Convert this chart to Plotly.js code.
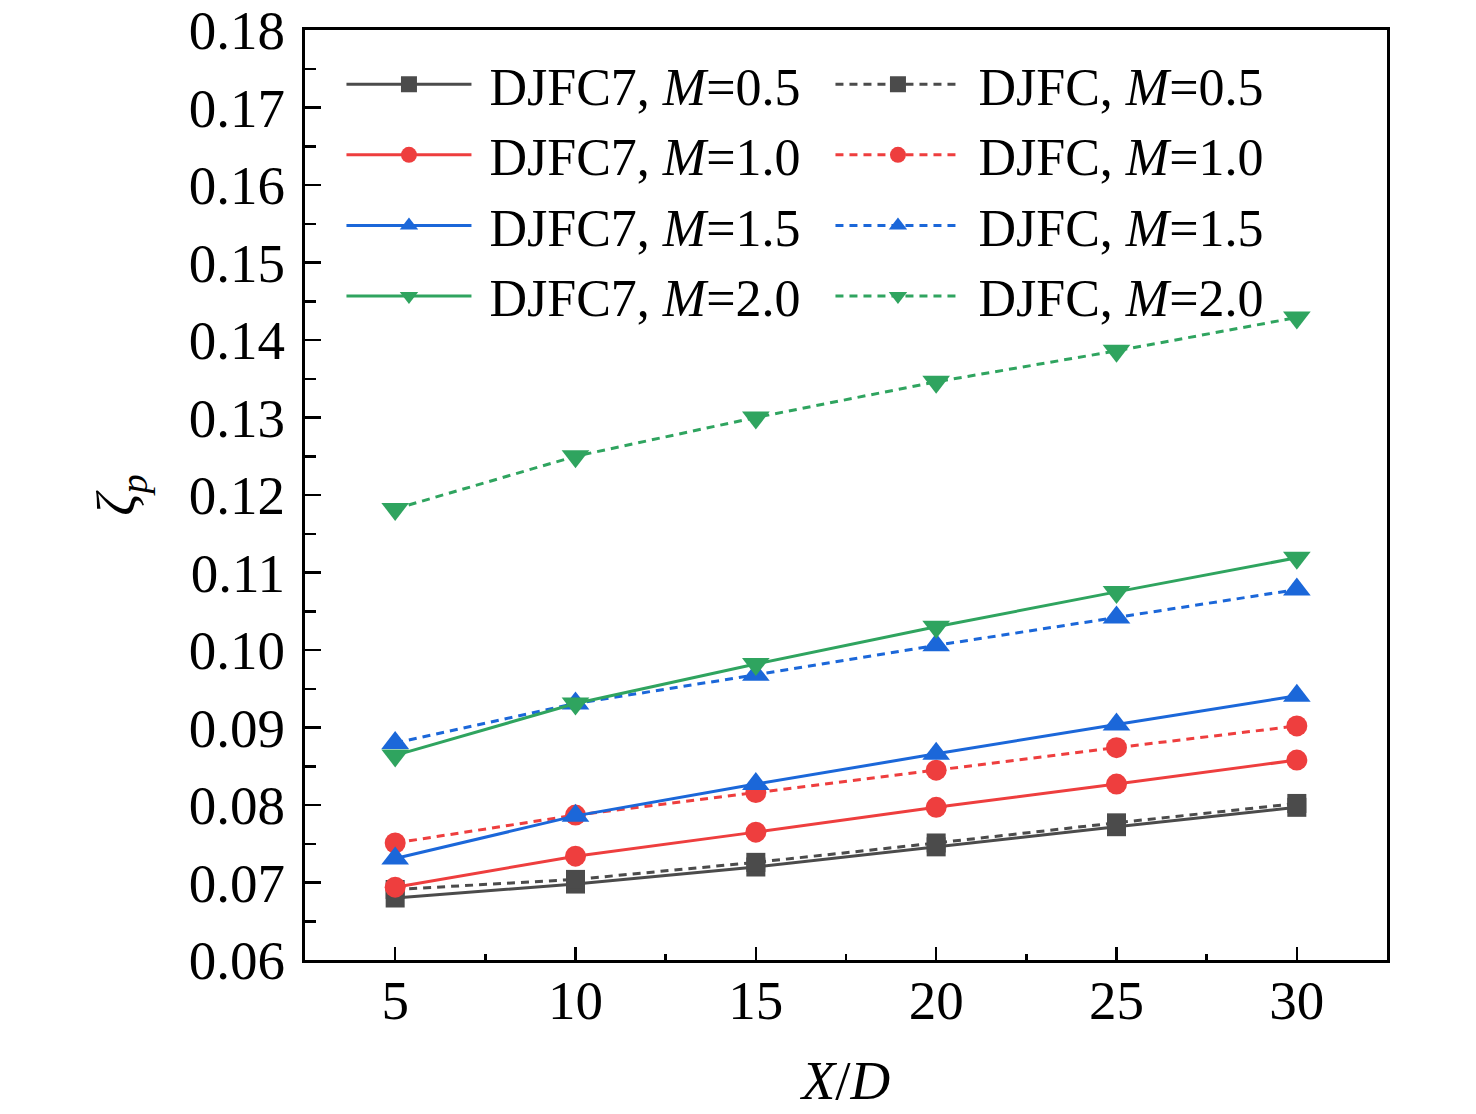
<!DOCTYPE html>
<html>
<head>
<meta charset="utf-8">
<script src="https://cdn.plot.ly/plotly-3.0.1.min.js"></script>
<style>
  body { margin: 0; background: #fff; }
  #graph { width: 1476px; height: 1114px; }
</style>
</head>
<body>
<div id="graph"></div>
<script>
// X/D positions
var xd = [5, 10, 15, 20, 25, 30]

// zeta_p
var djfc7_05 = [0.0680, 0.0698, 0.0720, 0.0746, 0.0772, 0.0797]
var djfc_05  = [0.0691, 0.0704, 0.0726, 0.0751, 0.0777, 0.0802]
var djfc7_10 = [0.0694, 0.0734, 0.0765, 0.0797, 0.0827, 0.0858]
var djfc_10  = [0.0751, 0.0787, 0.0816, 0.0845, 0.0874, 0.0902]
var djfc7_15 = [0.0731, 0.0786, 0.0827, 0.0866, 0.0904, 0.0941]
var djfc_15  = [0.0880, 0.0931, 0.0968, 0.1006, 0.1042, 0.1078]
var djfc7_20 = [0.0864, 0.0931, 0.0982, 0.1030, 0.1075, 0.1119]
var djfc_20  = [0.1182, 0.1250, 0.1300, 0.1346, 0.1386, 0.1429]

var gray = '#4b4b4b', red = '#ee3e3e', blue = '#1b67d9', green = '#2fa45f'
var font = 'Liberation Serif, Times New Roman, serif'
var sp = '\u00a0'  // pushes legend text away from the sample line

function series(y, name, color, dashed, symbol, size) {
    return {
        x: xd,
        y: y,
        name: sp + name,
        type: 'scatter',
        mode: 'lines+markers',
        line: {color: color, width: 3, dash: dashed ? '8px,6px' : 'solid'},
        marker: {color: color, symbol: symbol, size: size}
    }
}

var data = [
    series(djfc7_05, 'DJFC7, <i>M</i>=0.5', gray, false, 'square', 19),
    series(djfc_05, 'DJFC, <i>M</i>=0.5', gray, true, 'square', 19),
    series(djfc7_10, 'DJFC7, <i>M</i>=1.0', red, false, 'circle', 21),
    series(djfc_10, 'DJFC, <i>M</i>=1.0', red, true, 'circle', 21),
    series(djfc7_15, 'DJFC7, <i>M</i>=1.5', blue, false, 'triangle-up', 24),
    series(djfc_15, 'DJFC, <i>M</i>=1.5', blue, true, 'triangle-up', 24),
    series(djfc7_20, 'DJFC7, <i>M</i>=2.0', green, false, 'triangle-down', 24),
    series(djfc_20, 'DJFC, <i>M</i>=2.0', green, true, 'triangle-down', 24)
]

var layout = {
    width: 1476,
    height: 1114,
    margin: {l: 305, r: 89, t: 30, b: 154},
    paper_bgcolor: '#fff',
    plot_bgcolor: '#fff',
    font: {family: font, size: 55, color: '#000'},
    showlegend: true,
    legend: {
        orientation: 'h',
        x: 0.0337, y: 0.985,
        xanchor: 'left', yanchor: 'top',
        entrywidth: 349,
        itemwidth: 125,
        bgcolor: 'rgba(0,0,0,0)',
        font: {family: font, size: 52, color: '#000'}
    },
    xaxis: {
        range: [2.5, 32.5],
        tickvals: xd,
        ticks: 'inside', ticklen: 13, tickwidth: 2.5, tickcolor: '#000',
        ticklabelstandoff: -10,
        minor: {ticks: 'inside', ticklen: 6, tickwidth: 2.5, tickcolor: '#000', dtick: 2.5, tick0: 2.5},
        showline: true, linewidth: 3, linecolor: '#000', mirror: true,
        showgrid: false, zeroline: false,
        title: {text: '<i>X</i>/<i>D</i>', standoff: 31, font: {family: font, size: 55}}
    },
    yaxis: {
        range: [0.06, 0.18],
        dtick: 0.01,
        tickformat: '.2f',
        ticks: 'inside', ticklen: 16, tickwidth: 2.5, tickcolor: '#000',
        ticklabelstandoff: 6,
        minor: {ticks: 'inside', ticklen: 11, tickwidth: 2.5, tickcolor: '#000', dtick: 0.005},
        showline: true, linewidth: 3, linecolor: '#000', mirror: true,
        showgrid: false, zeroline: false,
        title: {text: '<i>ζ<sub>p</sub></i>', standoff: 36, font: {family: font, size: 55}}
    }
}

Plotly.newPlot('graph', data, layout, {displayModeBar: false, staticPlot: true})
</script>
</body>
</html>
